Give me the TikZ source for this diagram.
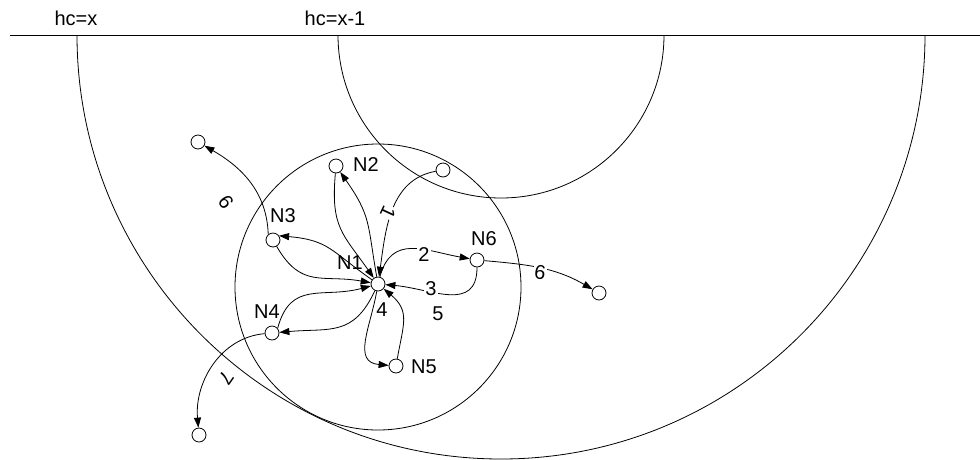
\documentclass[tikz,border=0pt]{standalone}
\usepackage{fontspec}
\setmainfont{Liberation Sans}
\usetikzlibrary{arrows.meta}
\begin{document}
\begin{tikzpicture}[x=1pt,y=1pt,line width=0.8pt,
  vtx/.style={circle,draw,fill=white,minimum size=14pt,inner sep=0pt},
  lbl/.style={font=\fontsize{20}{20}\selectfont,inner sep=1pt},
  elbl/.style={lbl,fill=white},
  edge/.style={-{Triangle[length=10pt,width=7pt]}},
  petal/.style={edge,looseness=1.25}
]
\useasboundingbox (0,0) rectangle (980,-459);
% level line and hop-count regions
\draw (10,-35) -- (980,-35);
\draw (77,-35) arc[start angle=180,end angle=360,radius=424];
\draw (338,-35) arc[start angle=180,end angle=360,radius=163];
\draw (378,-287) circle[radius=143];
\node[lbl] (hcx) at (76,-18) {hc=x};
\node[lbl] (hcx1) at (335,-18) {hc=x-1};
% vertices
\node[vtx] (n1) at (378,-284) {};
\node[vtx] (n2) at (336,-166) {};
\node[vtx] (nt) at (443,-170) {};
\node[vtx] (n3) at (273,-240) {};
\node[vtx] (n4) at (272,-333) {};
\node[vtx] (n5) at (396,-366) {};
\node[vtx] (n6) at (477,-260) {};
\node[vtx] (nr) at (599,-293) {};
\node[vtx] (ntl) at (198,-142) {};
\node[vtx] (nbl) at (199,-435) {};
% vertex labels
\node[lbl] (ln1) at (350,-263) {N1};
\node[lbl] (ln2) at (366,-165) {N2};
\node[lbl] (ln3) at (283,-216) {N3};
\node[lbl] (ln4) at (267,-312) {N4};
\node[lbl] (ln5) at (424,-367) {N5};
\node[lbl] (ln6) at (484,-239) {N6};
% edges
\draw[petal] (n2) to[out=-95,in=125] (n1);
\draw[petal] (n1) to[out=100,in=-55] (n2);
\draw[edge] (nt) to[out=190,in=82] (n1);
\draw[petal] (n1) to[out=145,in=-5] (n3.35);
\draw[petal] (n3) to[out=-60,in=170] (n1);
\draw[petal] (n4.40) to[out=75,in=195] (n1);
\draw[petal] (n1) to[out=-115,in=5] (n4);
\draw[petal] (n1) to[out=-100,in=175] (n5);
\draw[petal] (n5) to[out=80,in=-40] (n1);
\draw[petal] (n1) to[out=75,in=170] (n6);
\draw[petal] (n6) to[out=-90,in=-5] (n1);
\draw[edge] (n3.130) to[out=92,in=-30] (ntl);
\draw[edge] (n6) to[out=-5,in=150] (nr);
\draw[edge] (n4) to[out=185,in=95] (nbl);
% edge labels
\node[elbl] (l2) at (424,-255) {2};
\node[elbl] (l3) at (431,-289) {3};
\node[lbl] (l5) at (438,-314) {5};
\node[lbl] (l4) at (382,-310) {4};
\node[elbl,rotate=-115] (l1) at (388,-212) {1};
\node[lbl,rotate=-55] (l6a) at (226,-202) {6};
\node[elbl,rotate=-8] (l6b) at (540,-272) {6};
\node[elbl,rotate=-125] (l7) at (226,-378) {7};
\end{tikzpicture}
\end{document}
